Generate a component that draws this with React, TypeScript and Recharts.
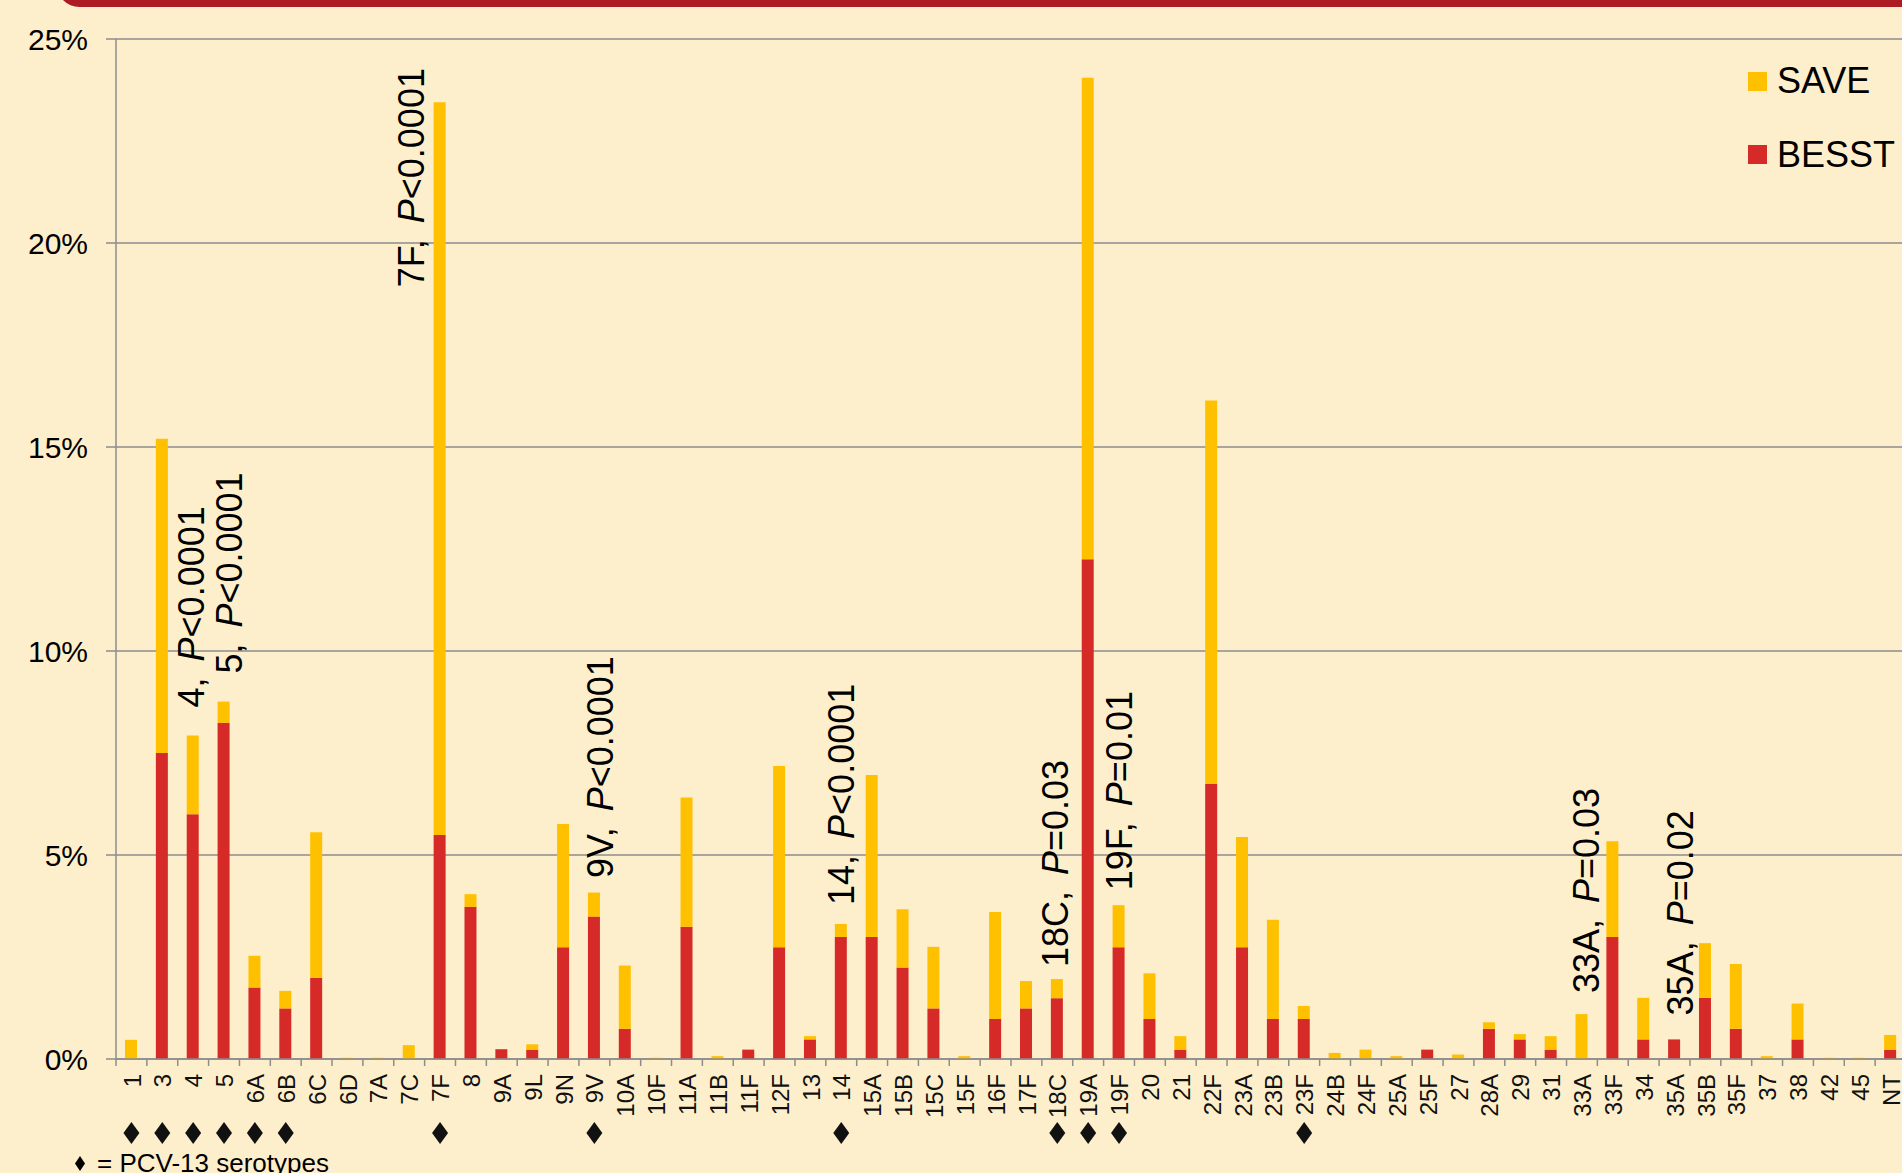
import React from 'react'
import { BarChart, Bar, XAxis, YAxis, CartesianGrid, Legend, LabelList } from 'recharts'

const SEROTYPES = [
  '1', '3', '4', '5', '6A', '6B', '6C', '6D', '7A', '7C', '7F', '8', '9A', '9L', '9N', '9V', '10A', '10F',
  '11A', '11B', '11F', '12F', '13', '14', '15A', '15B', '15C', '15F', '16F', '17F', '18C', '19A', '19F', '20',
  '21', '22F', '23A', '23B', '23F', '24B', '24F', '25A', '25F', '27', '28A', '29', '31', '33A', '33F', '34',
  '35A', '35B', '35F', '37', '38', '42', '45', 'NT',
]

// % of isolates, BESST (bottom, red)
const BESST = [
  0, 7.5, 6.0, 8.24, 1.75, 1.24, 1.99, 0, 0, 0, 5.49, 3.73, 0.24, 0.23, 2.74, 3.49, 0.74, 0,
  3.24, 0, 0.23, 2.74, 0.48, 2.99, 2.99, 2.24, 1.24, 0, 0.98, 1.24, 1.49, 12.25, 2.74, 0.98,
  0.23, 6.74, 2.74, 0.98, 0.98, 0, 0, 0, 0.23, 0, 0.74, 0.48, 0.23, 0, 2.99, 0.48,
  0.48, 1.5, 0.74, 0, 0.48, 0, 0, 0.23,
]

// % of isolates, SAVE (stacked on top, yellow)
const SAVE = [
  0.47, 7.7, 1.93, 0.52, 0.78, 0.43, 3.57, 0.03, 0.03, 0.34, 17.96, 0.31, 0, 0.13, 3.02, 0.59, 1.55, 0.03,
  3.17, 0.07, 0, 4.44, 0.08, 0.32, 3.97, 1.43, 1.51, 0.07, 2.62, 0.67, 0.47, 11.8, 1.03, 1.12,
  0.33, 9.4, 2.7, 2.43, 0.32, 0.15, 0.23, 0.07, 0, 0.11, 0.16, 0.13, 0.33, 1.1, 2.35, 1.02,
  0, 1.34, 1.59, 0.07, 0.88, 0.03, 0.03, 0.36,
]

const Y_TICKS = [0, 5, 10, 15, 20, 25]

const PCV13 = ['1', '3', '4', '5', '6A', '6B', '7F', '9V', '14', '18C', '19A', '19F', '23F']

const ANNOTATIONS = [
  { serotype: '4', p: '<0.0001' },
  { serotype: '5', p: '<0.0001' },
  { serotype: '7F', p: '<0.0001' },
  { serotype: '9V', p: '<0.0001' },
  { serotype: '14', p: '<0.0001' },
  { serotype: '18C', p: '=0.03' },
  { serotype: '19F', p: '=0.01' },
  { serotype: '33A', p: '=0.03' },
  { serotype: '35A', p: '=0.02' },
]

// where each annotation sits relative to the bar centre / bar top (px)
const ANNOT_SHIFT: Record<string, [number, number]> = {
  '4': [11.5, -28],
  '5': [18.5, -28],
  '7F': [-15.5, 185],
  '9V': [19, -14.5],
  '14': [13.5, -19],
  '18C': [11, -12],
  '19F': [13.5, -15],
  '33A': [17, -21],
  '35A': [19, -24],
}

const rows = SEROTYPES.map((s, i) => ({ serotype: s, besst: BESST[i], save: SAVE[i] }))

const FONT = '"Liberation Sans", Arial, Helvetica, sans-serif'
const BG = '#FEEFCC'
const GRAY = '#8C8C8C'
const RED = '#D62A28'
const YELLOW = '#FFC000'

const CHART_W = 1960
const MARGIN = { top: 39, right: 54, bottom: 0, left: 0 }
const Y_AXIS_W = 116
const BAND = (CHART_W - MARGIN.left - MARGIN.right - Y_AXIS_W) / SEROTYPES.length

function SerotypeTick(props: any) {
  const { x, y, payload } = props
  const s = payload.value
  const ty = y + 15
  return (
    <g>
      <line x1={x - BAND / 2} x2={x - BAND / 2} y1={y} y2={y + 7} stroke={GRAY} strokeWidth={1.5} />
      <text
        x={x}
        y={ty}
        dy="0.38em"
        transform={`rotate(-90 ${x} ${ty})`}
        textAnchor="end"
        fontSize={24}
        fontFamily={FONT}
        fill="#111"
      >
        {s}
      </text>
      {PCV13.includes(s) && (
        <polygon
          points={`${x},${y + 63} ${x + 8},${y + 74} ${x},${y + 85} ${x - 8},${y + 74}`}
          fill="#111"
        />
      )}
    </g>
  )
}

// the note sits above the whole stack; draw it from the SAVE segment,
// or from the BESST segment when SAVE is empty
function makeAnnotation(onTop: boolean) {
  return function Annotation(props: any) {
    const { x, y, width, value } = props
    const note = ANNOTATIONS.find((a) => a.serotype === value)
    if (!note) return null
    const saveEmpty = SAVE[SEROTYPES.indexOf(value)] === 0
    if (onTop === saveEmpty) return null
    const [dx, dy] = ANNOT_SHIFT[value] ?? [12, -18]
    const bx = x + width / 2 + dx
    const by = y + dy
    return (
      <text
        x={bx}
        y={by}
        transform={`rotate(-90 ${bx} ${by})`}
        fontSize={36}
        fontFamily={FONT}
        fill="#000"
      >
        {`${note.serotype},`}
        <tspan dx={16} fontStyle="italic">
          P
        </tspan>
        {note.p}
      </text>
    )
  }
}

const TopNote = makeAnnotation(true)
const BaseNote = makeAnnotation(false)

function LegendBox(props: any) {
  const items = [...(props.payload ?? [])].reverse()
  return (
    <div style={{ fontFamily: FONT, fontSize: 36, color: '#000' }}>
      {items.map((p: any) => (
        <div key={p.value} style={{ display: 'flex', alignItems: 'center', height: 73.5 }}>
          <span style={{ width: 19, height: 19, background: p.color, marginRight: 10, display: 'inline-block' }} />
          <span>{p.value}</span>
        </div>
      ))}
    </div>
  )
}

export default function App() {
  return (
    <div
      style={{
        position: 'fixed',
        left: 0,
        top: 0,
        width: 1902,
        height: 1173,
        overflow: 'hidden',
        background: BG,
      }}
    >
      <div
        style={{
          position: 'absolute',
          left: 56,
          top: -40,
          width: 2100,
          height: 47,
          borderRadius: 24,
          background: '#AE1C23',
        }}
      />
      <BarChart width={CHART_W} height={1173} data={rows} margin={MARGIN} barSize={12}>
        <CartesianGrid vertical={false} stroke={GRAY} strokeWidth={1.5} />
        <XAxis
          dataKey="serotype"
          interval={0}
          height={114}
          tickLine={false}
          tickSize={0}
          tickMargin={0}
          axisLine={{ stroke: GRAY, strokeWidth: 1.5 }}
          tick={<SerotypeTick />}
        />
        <YAxis
          width={Y_AXIS_W}
          domain={[0, 25]}
          ticks={Y_TICKS}
          tickFormatter={(v) => `${v}%`}
          tickSize={10}
          tickMargin={18}
          axisLine={{ stroke: GRAY, strokeWidth: 1.5 }}
          tickLine={{ stroke: GRAY, strokeWidth: 1.5 }}
          tick={{ fontSize: 30, fill: '#000', fontFamily: FONT }}
        />
        <Legend
          layout="horizontal"
          verticalAlign="middle"
          align="center"
          content={<LegendBox />}
          wrapperStyle={{ top: 44.5, left: 1748, width: 'auto', height: 'auto' }}
        />
        <Bar dataKey="besst" name="BESST" stackId="a" fill={RED} isAnimationActive={false}>
          <LabelList dataKey="serotype" content={<BaseNote />} />
        </Bar>
        <Bar dataKey="save" name="SAVE" stackId="a" fill={YELLOW} isAnimationActive={false}>
          <LabelList dataKey="serotype" content={<TopNote />} />
        </Bar>
      </BarChart>
      <div
        style={{
          position: 'absolute',
          left: 75,
          top: 1150,
          fontFamily: FONT,
          fontSize: 26,
          lineHeight: '26px',
          display: 'flex',
          alignItems: 'center',
          whiteSpace: 'nowrap',
          color: '#000',
        }}
      >
        <svg width={10} height={15}>
          <polygon points="5,0 10,7.5 5,15 0,7.5" fill="#000" />
        </svg>
        <span style={{ marginLeft: 12 }}>= PCV-13 serotypes</span>
      </div>
    </div>
  )
}
